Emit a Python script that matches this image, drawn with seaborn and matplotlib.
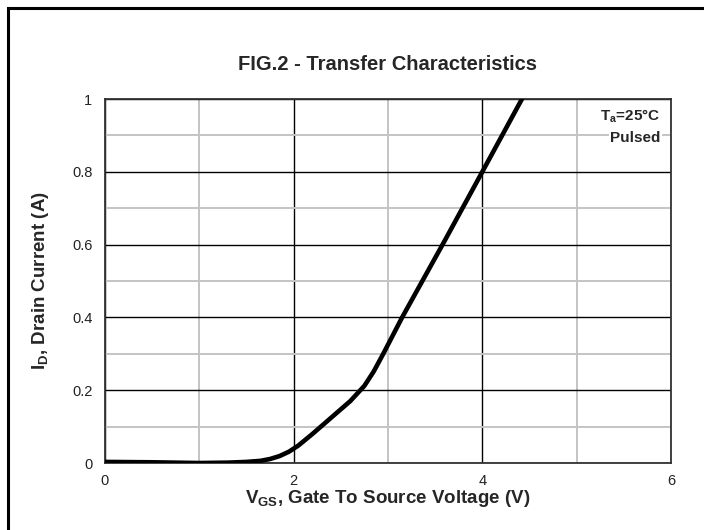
import numpy as np
import matplotlib
matplotlib.use("Agg")
import matplotlib.pyplot as plt
import seaborn as sns
import pandas as pd
from matplotlib.patches import Rectangle

# values
vgs = [0, 0.5, 1.0, 1.3, 1.5, 1.65, 1.75, 1.85, 1.95, 2.05, 2.2, 2.4, 2.6,
       2.75, 2.85, 2.95, 3.15, 3.6, 4.0, 4.42]
drain = [0.003, 0.002, 0.0, 0.001, 0.003, 0.006, 0.011, 0.019, 0.031, 0.048,
         0.08, 0.125, 0.17, 0.212, 0.252, 0.30, 0.40, 0.61, 0.80, 1.0]
xticks = [0, 2, 4, 6]
yticks = [0, 0.2, 0.4, 0.6, 0.8, 1]
ylabels = ["0", "0.2", "0.4", "0.6", "0.8", "1"]

df = pd.DataFrame({"vgs": vgs, "id": drain})

sns.set_style("white")
plt.rcParams["font.family"] = ["Liberation Sans", "DejaVu Sans"]
plt.rcParams["mathtext.fontset"] = "custom"
plt.rcParams["mathtext.rm"] = "Liberation Sans:bold"
plt.rcParams["mathtext.it"] = "Liberation Sans:bold"
plt.rcParams["mathtext.bf"] = "Liberation Sans:bold"

fig = plt.figure(figsize=(7.04, 5.30), dpi=100)
ax = fig.add_axes([0.1491, 0.1264, 0.8040, 0.6868])

# outer frame (runs off right/bottom edges like the reference)
fig.patches.append(Rectangle((8 / 704, -0.05), 1.2, 1 - 8 / 530 + 0.05,
                             transform=fig.transFigure, fill=False,
                             edgecolor="black", linewidth=2.2, zorder=0))

sns.lineplot(data=df, x="vgs", y="id", ax=ax, color="black", linewidth=3.3,
             zorder=5)

ax.set_xlim(0, 6)
ax.set_ylim(0, 1)
ax.set_xticks(xticks)
ax.set_xticklabels([str(t) for t in xticks])
ax.set_yticks(yticks)
ax.set_yticklabels(ylabels)
ax.set_xticks([1, 3, 5], minor=True)
ax.set_yticks([0.1, 0.3, 0.5, 0.7, 0.9], minor=True)
ax.grid(which="minor", color="#c4c4c4", linewidth=1.4, zorder=1)
ax.grid(which="major", color="black", linewidth=1.0, zorder=2)
ax.set_axisbelow(True)
ax.tick_params(which="both", length=0, labelsize=10.5, colors="#222222")
ax.tick_params(axis="x", pad=8)
ax.tick_params(axis="y", pad=9)
for s in ax.spines.values():
    s.set_color("#333333")
    s.set_linewidth(1.3)

ax.set_xlabel(r"V$_{\mathregular{GS}}$, Gate To Source Voltage (V)",
              fontsize=13.5, fontweight="bold", labelpad=0)
ax.set_ylabel(r"I$_{\mathregular{D}}$, Drain Current (A)",
              fontsize=13.5, fontweight="bold", labelpad=15)
ax.set_title("FIG.2 - Transfer Characteristics", fontsize=14.5,
             fontweight="bold", pad=21)

ax.text(0.982, 0.952, r"T$_{\mathregular{a}}$=25°C", transform=ax.transAxes,
        ha="right", va="center", fontsize=11, fontweight="bold",
        bbox=dict(facecolor="white", edgecolor="none", pad=0.5), zorder=6)
ax.text(0.982, 0.893, "Pulsed", transform=ax.transAxes,
        ha="right", va="center", fontsize=11, fontweight="bold",
        bbox=dict(facecolor="white", edgecolor="none", pad=1.0), zorder=6)

fig.savefig("out.png", dpi=100)
